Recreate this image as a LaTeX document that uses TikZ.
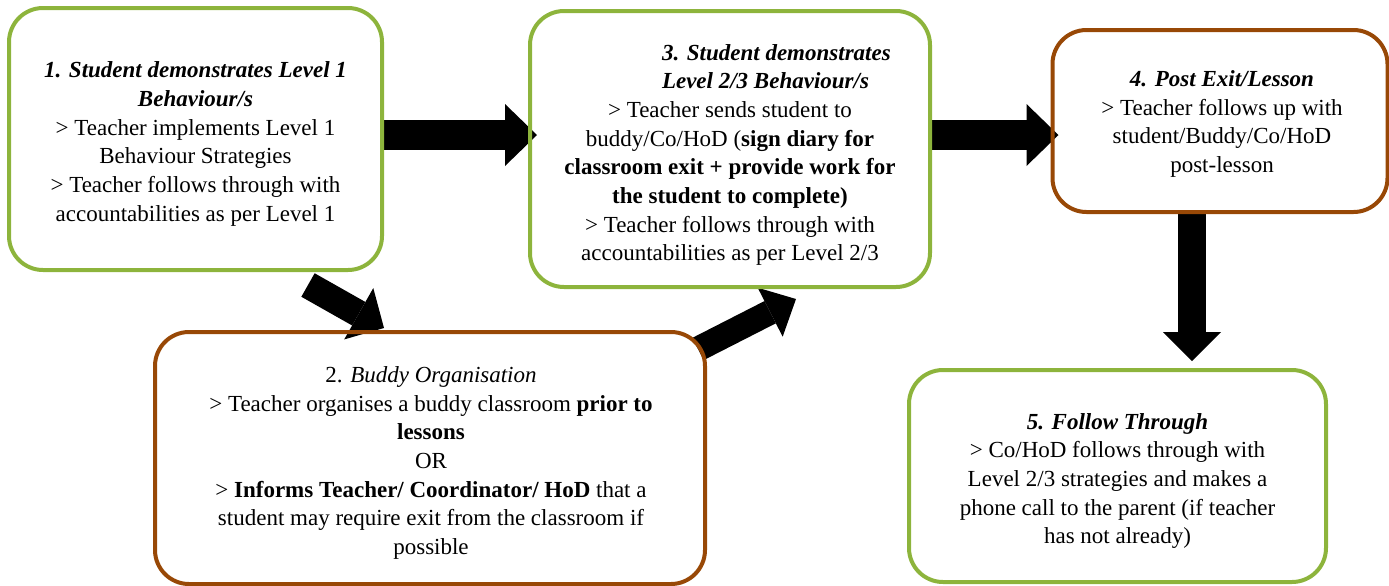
\documentclass[tikz,border=0pt]{standalone}
\usepackage{fontspec}
\setmainfont{Liberation Serif}
\usetikzlibrary{arrows.meta,calc}
\definecolor{boxgreen}{RGB}{141,180,60}
\definecolor{boxbrown}{RGB}{152,72,6}
\pgfdeclarelayer{bg}
\pgfsetlayers{bg,main}
\tikzset{
  box/.style={draw, line width=2pt, rounded corners=17pt, inner sep=0pt},
  greenbox/.style={box, draw=boxgreen},
  brownbox/.style={box, draw=boxbrown},
  txt/.style={align=center, inner sep=0pt, font=\fontsize{11.5}{14.35}\selectfont},
  blockarrow/.style args={#1/#2/#3}{draw=black, line width=#1, line cap=butt,
    -{Triangle[length=#3, width=#2, line width=0pt]}},
}
\begin{document}
\begin{tikzpicture}[x=0.5pt,y=-0.5pt]
\useasboundingbox (0,0) rectangle (1389,585);
\node[greenbox, minimum width=186.5pt, minimum height=131pt] (b1) at (195.5,139) {};
\node[txt] (t1) at ($(b1.center)+(0,5)$) {%
\textbf{\textit{1. Student demonstrates Level 1}}\\
\textbf{\textit{Behaviour/s}}\\
> Teacher implements Level 1\\
Behaviour Strategies\\
> Teacher follows through with\\
accountabilities as per Level 1};
\node[greenbox, minimum width=200pt, minimum height=138pt] (b3) at (730,149) {};
\node[txt] (t3) at ($(b3.center)+(0,6)$) {%
\makebox[68pt][l]{\textbf{\textit{3. Student demonstrates}}}\\
\makebox[68pt][l]{\textbf{\textit{Level 2/3 Behaviour/s}}}\\
> Teacher sends student to\\
buddy/Co/HoD (\textbf{sign diary for}\\
\textbf{classroom exit + provide work for}\\
\textbf{the student to complete)}\\
> Teacher follows through with\\
accountabilities as per Level 2/3};
\node[brownbox, minimum width=167.5pt, minimum height=91pt] (b4) at (1220,121) {};
\node[txt] (t4) at ($(b4.center)+(2,3)$) {%
\textbf{\textit{4. Post Exit/Lesson}}\\
> Teacher follows up with\\
student/Buddy/Co/HoD\\
post-lesson};
\node[brownbox, minimum width=275pt, minimum height=126pt] (b2) at (430,458) {};
\node[txt] (t2) at ($(b2.center)+(1,5)$) {%
2. \textit{Buddy Organisation}\\
> Teacher organises a buddy classroom \textbf{prior to}\\
\textbf{lessons}\\
OR\\
> \textbf{Informs Teacher/ Coordinator/ HoD} that a\\
student may require exit from the classroom if\\
possible};
\node[greenbox, minimum width=208.5pt, minimum height=106pt] (b5) at (1117.5,476) {};
\node[txt] (t5) at ($(b5.center)+(0,5)$) {%
\textbf{\textit{5. Follow Through}}\\
> Co/HoD follows through with\\
Level 2/3 strategies and makes a\\
phone call to the parent (if teacher\\
has not already)};
\begin{pgfonlayer}{bg}
\draw[blockarrow=15pt/31pt/16pt] (b1.east |- 0,135) -- ($(b3.west |- 0,135)+(9,0)$);
\draw[blockarrow=15pt/31pt/16pt] (b3.east |- 0,135) -- ($(b4.west |- 0,135)+(8,0)$);
\draw[blockarrow=14pt/29pt/14.5pt] (b4.south -| 1192,0) -- ($(b5.north -| 1192,0)+(0,-7)$);
\draw[blockarrow=13.5pt/29.5pt/14.5pt] ($(b1.south west)+(301,13)$) -- ($(b2.north west)+(231,-2)$);
\draw[blockarrow=12.5pt/27.5pt/14.5pt] ($(b2.north east)+(-9,19)$) -- ($(b3.south west)+(268,10)$);
\end{pgfonlayer}
\end{tikzpicture}
\end{document}
